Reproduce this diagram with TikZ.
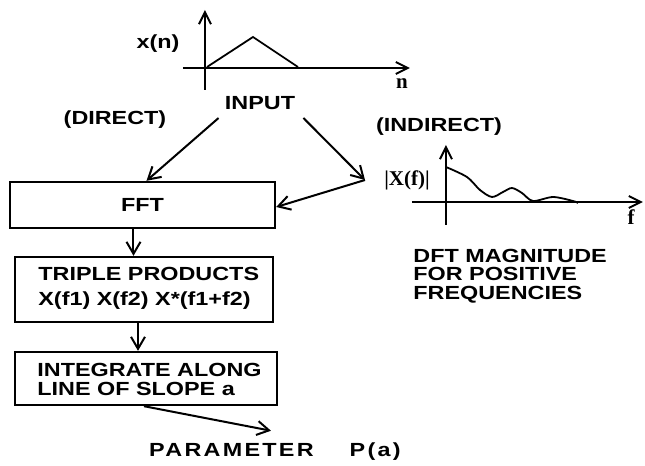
\documentclass[tikz,border=0pt]{standalone}
\usepackage{fontspec}
\setmainfont{Liberation Sans}[FakeStretch=1.23]
\newfontfamily\lblfont{Liberation Serif}
\usetikzlibrary{arrows.meta}

\begin{document}
\begin{tikzpicture}[x=0.5pt, y=-0.5pt,
    every node/.style={font=\fontsize{9.5}{11.5}\selectfont\bfseries, inner sep=0pt},
    lbl/.style={font=\lblfont\fontsize{10.5}{12}\selectfont\bfseries},
    box/.style={draw, line width=1.2pt},
    arr/.style={line width=1pt, -{Straight Barb[length=6pt, width=7pt]}},
    axis/.style={line width=1pt, -{Straight Barb[length=6pt, width=6pt]}},
    sig/.style={line width=0.9pt}]
    \useasboundingbox (0,0) rectangle (645,466);
    % input signal
    \draw[axis] (205,90) -- (205,10);
    \draw[axis] (183,68) -- (410,68);
    \draw[sig] (207,67) -- (253,37) -- (298,67);
    \node (xn) at (158,44) {x(n)};
    \node[lbl] (nlbl) at (402,84) {n};
    \node (input) at (260,103) {INPUT};
    \node (direct) at (115,120) {(DIRECT)};
    \node (indirect) at (439,127) {(INDIRECT)};
    % spectrum
    \draw[axis] (446,225) -- (446,145);
    \draw[axis] (412,202) -- (643,202);
    \draw[sig] plot[smooth] coordinates {(446,167) (467,177) (480,190) (492,197)
        (503,192) (512,188) (522,193) (533,201) (553,197) (573,201) (578,203)};
    \node[lbl] (mag) at (407,180) {|X(f)|};
    \node[lbl] (flbl) at (631,217) {f};
    \coordinate (tip) at (365,180);
    \node[anchor=west, align=left, font=\fontsize{9.5}{9.2}\selectfont\bfseries] (dftlbl) at (413,276)
        {DFT MAGNITUDE\\FOR POSITIVE\\FREQUENCIES};
    % blocks
    \node[box, minimum width=132.5pt, minimum height=23pt] (fft) at (142.5,205) {FFT};
    \node[box, minimum width=129pt, minimum height=32.5pt] (prod) at (144,289.5) {};
    \node[anchor=west, align=left, font=\fontsize{9.5}{12.5}\selectfont\bfseries] (prodtxt) at (38,288)
        {TRIPLE PRODUCTS\\X(f1) X(f2) X*(f1+f2)};
    \node[box, minimum width=131pt, minimum height=26.5pt] (integ) at (146,378.5) {};
    \node[anchor=west, align=left, font=\fontsize{9.5}{9.5}\selectfont\bfseries] (integtxt) at (37,379)
        {INTEGRATE ALONG\\LINE OF SLOPE a};
    \node[font=\addfontfeature{LetterSpace=12}\fontsize{9.5}{11.5}\selectfont\bfseries] (param) at (275,452)
        {PARAMETER\hspace{18pt}P(a)};
    % connectors
    \draw[arr] ([xshift=-3pt, yshift=-4pt]input.south west) -- ([xshift=2pt]fft.north);
    \draw[arr] ([xshift=4pt, yshift=-4pt]input.south east) -- (tip);
    \draw[arr] (tip) -- ([yshift=-1pt]fft.east);
    \draw[arr] ([xshift=-4.5pt]fft.south) -- ([xshift=-4.5pt]fft.south |- prod.north);
    \draw[arr] ([xshift=-3pt]prod.south) -- ([xshift=-3pt]prod.south |- integ.north);
    \draw[arr] ([xshift=-1pt]integ.south) -- ([xshift=-2pt, yshift=6pt]param.north);
\end{tikzpicture}
\end{document}
